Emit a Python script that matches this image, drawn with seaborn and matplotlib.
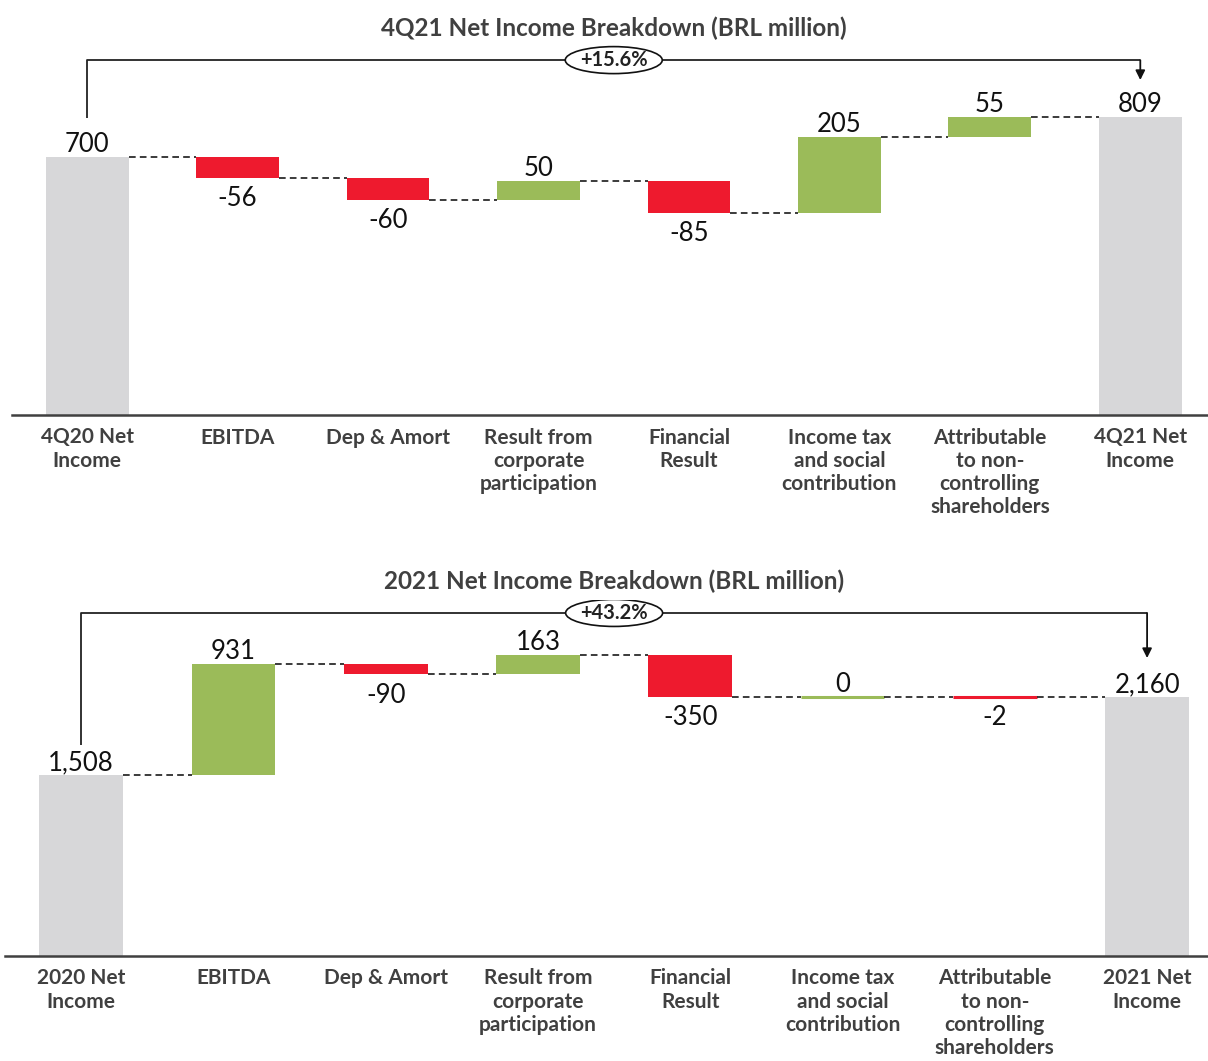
import matplotlib
matplotlib.use("Agg")
import matplotlib.pyplot as plt
from matplotlib.patches import Ellipse
from matplotlib.transforms import ScaledTranslation
import seaborn as sns
import pandas as pd

sns.set_theme(style="white")
plt.rcParams["font.family"] = ["Lato", "DejaVu Sans"]

# ---- quarterly bridge -------------------------------------------------------
q_title = "4Q21 Net Income Breakdown (BRL million)"
q_categories = [
    "4Q20 Net\nIncome", "EBITDA", "Dep & Amort",
    "Result from\ncorporate\nparticipation", "Financial\nResult",
    "Income tax\nand social\ncontribution",
    "Attributable\nto non-\ncontrolling\nshareholders", "4Q21 Net\nIncome",
]
q_values = [700, -56, -60, 50, -85, 205, 55, 809]
q_growth = "+15.6%"

# ---- annual bridge ----------------------------------------------------------
y_title = "2021 Net Income Breakdown (BRL million)"
y_categories = [
    "2020 Net\nIncome", "EBITDA", "Dep & Amort",
    "Result from\ncorporate\nparticipation", "Financial\nResult",
    "Income tax\nand social\ncontribution",
    "Attributable\nto non-\ncontrolling\nshareholders", "2021 Net\nIncome",
]
y_values = [1508, 931, -90, 163, -350, 0, -2, 2160]
y_growth = "+43.2%"

GREY = "#D7D7D9"
GREEN = "#9BBB59"
RED = "#EE1A2E"
TEXT = "#404040"
BAR_W = 0.55

W, H = 1208, 1061
fig = plt.figure(figsize=(W / 100, H / 100), dpi=100)


def waterfall(ax, cats, vals, ytop, xright, bracket_y, left_end, arrow_tip, growth):
    n = len(vals)
    bottoms, heights, colors, levels = [], [], [], []
    running = 0
    for i, v in enumerate(vals):
        if i == 0 or i == n - 1:
            bottoms.append(0)
            heights.append(v)
            colors.append(GREY)
            running = v
        else:
            bottoms.append(running + min(v, 0))
            heights.append(abs(v))
            colors.append(GREEN if v >= 0 else RED)
            running += v
        levels.append(running)

    df = pd.DataFrame({"category": cats, "height": heights})
    sns.barplot(data=df, x="category", y="height", order=cats, bottom=bottoms,
                width=BAR_W, errorbar=None, color=GREY, saturation=1,
                linewidth=0, ax=ax)
    ax.set_xlim(-0.5, xright)
    ax.set_ylim(0, ytop)

    px_per_unit = ax.bbox.height / ytop
    for patch, c, h in zip(ax.patches, colors, heights):
        patch.set_facecolor(c)
        if h * px_per_unit < 3:
            patch.set_edgecolor(c)
            patch.set_linewidth(2.2)

    # dashed connectors between consecutive bars
    for i in range(n - 1):
        ax.plot([i + BAR_W / 2, i + 1 - BAR_W / 2], [levels[i], levels[i]],
                color="#1a1a1a", lw=1.2, dashes=(4, 2.5), zorder=1)

    # value labels
    for i, v in enumerate(vals):
        label = f"{v:,}"
        if v < 0:
            ax.annotate(label, (i, bottoms[i]), xytext=(0, -6),
                        textcoords="offset points", ha="center", va="top",
                        fontsize=18.5, color="#111111")
        else:
            ax.annotate(label, (i, bottoms[i] + heights[i]), xytext=(0, 0),
                        textcoords="offset points", ha="center", va="bottom",
                        fontsize=18.5, color="#111111")

    # growth bracket from opening to closing bar
    ax.plot([0, 0, n - 1, n - 1], [left_end, bracket_y, bracket_y, bracket_y],
            color="#222222", lw=1.3, clip_on=False, solid_capstyle="butt")
    ax.annotate("", xy=(n - 1, arrow_tip), xytext=(n - 1, bracket_y),
                arrowprops=dict(arrowstyle="-|>", color="#111111", lw=1.3,
                                mutation_scale=14, shrinkA=0, shrinkB=0),
                annotation_clip=False)
    mid = (n - 1) / 2
    ell = Ellipse((0, 0), 0.97, 0.27, facecolor="white", edgecolor="#111111",
                  lw=1.2, zorder=5,
                  transform=fig.dpi_scale_trans + ScaledTranslation(mid, bracket_y, ax.transData))
    ax.add_artist(ell)
    ax.text(mid, bracket_y, growth, ha="center", va="center", fontsize=14.5,
            fontweight="bold", color="#222222", zorder=6)

    for side in ["top", "left", "right"]:
        ax.spines[side].set_visible(False)
    ax.spines["bottom"].set_color(TEXT)
    ax.spines["bottom"].set_linewidth(1.8)
    ax.set_yticks([])
    ax.set_xlabel("")
    ax.set_ylabel("")
    ax.tick_params(axis="x", length=0, pad=9)
    for t in ax.get_xticklabels():
        t.set_fontsize(15)
        t.set_fontweight("bold")
        t.set_color(TEXT)
        t.set_linespacing(1.2)


ax1 = fig.add_axes([12 / W, 1 - 415 / H, 1 - 12 / W, 370 / H])
waterfall(ax1, q_categories, q_values, ytop=1004, xright=7.45,
          bracket_y=963, left_end=806, arrow_tip=909, growth=q_growth)

ax2 = fig.add_axes([5 / W, 1 - 956 / H, 1 - 5 / W, 356 / H])
waterfall(ax2, y_categories, y_values, ytop=2969, xright=7.40,
          bracket_y=2861, left_end=1760, arrow_tip=2485, growth=y_growth)

fig.text(614 / W, 1 - 28 / H, q_title, ha="center", va="center",
         fontsize=17.5, fontweight="bold", color=TEXT)
fig.text(614 / W, 1 - 581 / H, y_title, ha="center", va="center",
         fontsize=17.5, fontweight="bold", color=TEXT)

fig.savefig("out.png", dpi=100)
